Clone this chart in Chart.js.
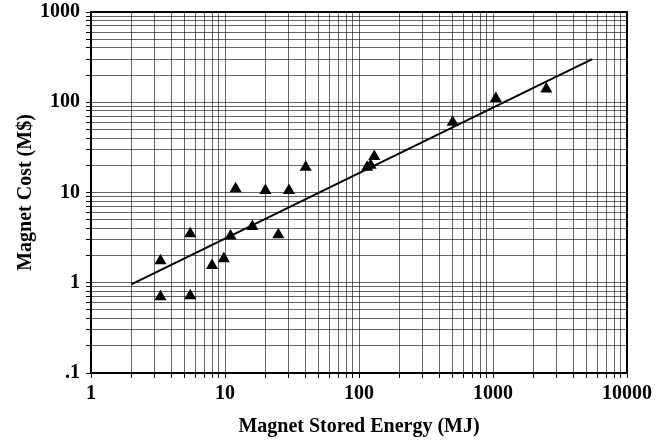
<!DOCTYPE html>
<html>
<head>
<meta charset="utf-8">
<script src="https://cdn.jsdelivr.net/npm/chart.js@4.4.0/dist/chart.umd.min.js"></script>
<style>
html, body { margin:0; padding:0; background:#fff; }
#wrap { width:668px; height:442px; }
</style>
</head>
<body>
<div id="wrap"><canvas id="c" width="668" height="442"></canvas></div>
<script>
// magnet data
var energy = [3.3, 3.3, 5.5, 5.5, 8, 9.8, 11, 12, 16, 20, 25, 30, 40, 115, 122, 130, 500, 1050, 2500];
var cost   = [1.75, 0.7, 3.5, 0.72, 1.55, 1.85, 3.3, 11, 4.2, 10.5, 3.4, 10.5, 19, 19, 20, 25, 60, 110, 140];

// fitted line end points
var fitEnergy = [2, 5500];
var fitCost   = [0.96, 300];

var xTickLabels = ['1', '10', '100', '1000', '10000'];
var yTickLabels = ['.1', '1', '10', '100', '1000'];
var xDecades = [0, 1, 2, 3, 4];
var yDecades = [-1, 0, 1, 2, 3];

function logTicks(decades){
    var t = [];
    for(var i=0;i<decades.length;i++){
        var base = Math.pow(10, decades[i]);
        if(i == decades.length-1){
            t.push(base);
            break;
        }
        for(var m=1;m<10;m++){
            t.push(+(m*base).toPrecision(3));
        }
    }
    return t;
}

function labelFor(v, decades, labels){
    var d = Math.round(Math.log10(v));
    if(Math.abs(Math.log10(v) - d) > 1e-6) return '';
    var idx = decades.indexOf(d);
    return idx < 0 ? '' : labels[idx];
}

function toPoints(xs, ys){
    var pts = [];
    for(var i=0;i<xs.length;i++){
        pts.push({x: xs[i], y: ys[i]});
    }
    return pts;
}

var frame = {
    id: 'frame',
    afterDatasetsDraw: function(chart){
        var a = chart.chartArea, ctx = chart.ctx;
        ctx.save();
        ctx.strokeStyle = '#000';
        ctx.lineWidth = 2;
        ctx.strokeRect(a.left, a.top, a.right - a.left, a.bottom - a.top);
        ctx.restore();
    }
};

var font = { family: '"Liberation Serif", "Times New Roman", serif', size: 20, weight: 'bold' };

var grid = {
    color: 'rgba(0,0,0,0.6)',
    lineWidth: 1,
    borderDash: [2, 1],
    drawTicks: true,
    tickLength: 5,
    tickColor: '#000',
    tickWidth: 1,
    tickBorderDash: []
};

var ctx = document.getElementById('c').getContext('2d');
var chart = new Chart(ctx, {
    type: 'scatter',
    data: {
        datasets: [{
            label: 'magnets',
            data: toPoints(energy, cost),
            pointStyle: 'triangle',
            pointRadius: 7,
            backgroundColor: '#000',
            borderColor: '#000',
            borderWidth: 0
        }, {
            type: 'line',
            label: 'fit',
            data: toPoints(fitEnergy, fitCost),
            borderColor: '#000',
            borderWidth: 2,
            pointRadius: 0,
            fill: false
        }]
    },
    options: {
        responsive: false,
        animation: false,
        layout: { padding: { left: 12, right: 41, top: 12, bottom: 0 } },
        plugins: {
            legend: { display: false },
            tooltip: { enabled: false }
        },
        scales: {
            x: {
                type: 'logarithmic',
                min: 1,
                max: 10000,
                grid: grid,
                border: { display: true, color: '#000', width: 2 },
                ticks: {
                    color: '#000',
                    font: font,
                    padding: 4,
                    autoSkip: false,
                    maxRotation: 0,
                    callback: function(v){ return labelFor(v, xDecades, xTickLabels); }
                },
                afterBuildTicks: function(s){
                    s.ticks = logTicks(xDecades).map(function(v){ return {value: v}; });
                },
                afterFit: function(s){ s.height = 69; },
                title: {
                    display: true,
                    text: 'Magnet Stored Energy (MJ)',
                    color: '#000',
                    font: font,
                    padding: { top: 0, bottom: 3 }
                }
            },
            y: {
                type: 'logarithmic',
                min: 0.1,
                max: 1000,
                grid: grid,
                border: { display: true, color: '#000', width: 2 },
                ticks: {
                    color: '#000',
                    font: font,
                    padding: 6,
                    autoSkip: false,
                    callback: function(v){ return labelFor(v, yDecades, yTickLabels); }
                },
                afterBuildTicks: function(s){
                    s.ticks = logTicks(yDecades).map(function(v){ return {value: v}; });
                },
                afterFit: function(s){
                    s.width = 79;
                    s.paddingTop = 0;
                    s.paddingBottom = 0;
                },
                title: {
                    display: true,
                    text: 'Magnet Cost (M$)',
                    color: '#000',
                    font: font,
                    padding: { top: 2, bottom: 0 }
                }
            }
        }
    },
    plugins: [frame]
});
</script>
</body>
</html>
